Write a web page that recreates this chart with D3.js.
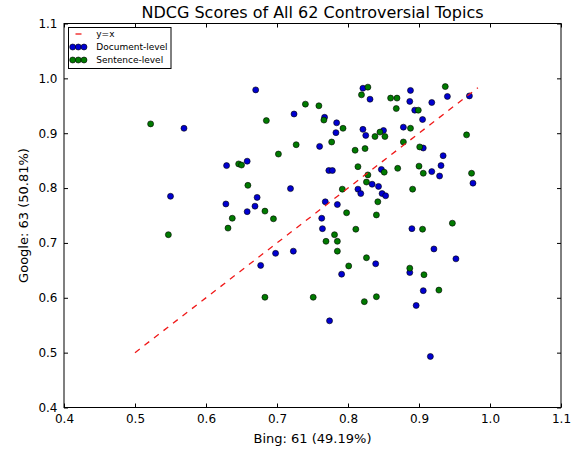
<!DOCTYPE html>
<html>
<head>
<meta charset="utf-8">
<script src="https://cdn.jsdelivr.net/npm/d3@7"></script>
<style>
body { margin: 0; background: #fff; }
text { font-family: "DejaVu Sans", sans-serif; fill: #000; }
</style>
</head>
<body>
<svg id="chart" width="577" height="451"></svg>
<script>
"use strict";

/*global d3*/

// Document-level NDCG (Bing, Google)
var docX = [0.670, 0.569, 0.629, 0.658, 0.550, 0.628, 0.672, 0.669, 0.658, 0.821,
	    0.831, 0.724, 0.767, 0.784, 0.783, 0.821, 0.825, 0.850, 0.878, 0.760,
	    0.773, 0.778, 0.847, 0.834, 0.843, 0.814, 0.818, 0.848, 0.853, 0.719,
	    0.768, 0.785, 0.763, 0.764, 0.723, 0.698, 0.677, 0.839, 0.791, 0.887,
	    0.774, 0.888, 0.971, 0.940, 0.887, 0.918, 0.894, 0.905, 0.906, 0.934,
	    0.931, 0.918, 0.929, 0.976, 0.890, 0.921, 0.952, 0.906, 0.896, 0.916],
    docY = [0.979, 0.909, 0.841, 0.849, 0.785, 0.771, 0.783, 0.767, 0.757, 0.982,
	    0.962, 0.935, 0.929, 0.919, 0.901, 0.907, 0.896, 0.905, 0.911, 0.876,
	    0.832, 0.832, 0.834, 0.807, 0.803, 0.798, 0.790, 0.790, 0.786, 0.799,
	    0.775, 0.770, 0.745, 0.726, 0.685, 0.681, 0.659, 0.662, 0.643, 0.646,
	    0.558, 0.978, 0.968, 0.967, 0.958, 0.956, 0.942, 0.925, 0.873, 0.859,
	    0.841, 0.830, 0.822, 0.809, 0.726, 0.689, 0.671, 0.613, 0.586, 0.493],

    // Sentence-level NDCG (Bing, Google)
    sentX = [0.522, 0.646, 0.650, 0.659, 0.637, 0.631, 0.547, 0.828, 0.819, 0.860,
	     0.869, 0.868, 0.740, 0.759, 0.685, 0.766, 0.793, 0.845, 0.838, 0.852,
	     0.888, 0.878, 0.727, 0.777, 0.810, 0.824, 0.702, 0.814, 0.828, 0.851,
	     0.870, 0.826, 0.792, 0.683, 0.695, 0.798, 0.842, 0.840, 0.811, 0.781,
	     0.769, 0.785, 0.785, 0.826, 0.801, 0.887, 0.683, 0.751, 0.823, 0.840,
	     0.937, 0.899, 0.967, 0.901, 0.900, 0.906, 0.974, 0.891, 0.947, 0.905,
	     0.907, 0.928],
    sentY = [0.917, 0.844, 0.842, 0.805, 0.745, 0.727, 0.715, 0.984, 0.970, 0.964,
	     0.964, 0.945, 0.953, 0.950, 0.923, 0.924, 0.909, 0.902, 0.894, 0.894,
	     0.909, 0.884, 0.879, 0.884, 0.869, 0.872, 0.862, 0.839, 0.824, 0.829,
	     0.836, 0.811, 0.798, 0.758, 0.744, 0.755, 0.775, 0.751, 0.725, 0.715,
	     0.703, 0.703, 0.685, 0.673, 0.658, 0.654, 0.601, 0.601, 0.593, 0.602,
	     0.985, 0.942, 0.897, 0.875, 0.840, 0.827, 0.827, 0.798, 0.736, 0.725,
	     0.642, 0.614],

    // y = x reference line
    lineX = [0.5, 0.983],

    xTicks = [0.4, 0.5, 0.6, 0.7, 0.8, 0.9, 1.0, 1.1],
    yTicks = [0.4, 0.5, 0.6, 0.7, 0.8, 0.9, 1.0, 1.1],

    titleText = "NDCG Scores of All 62 Controversial Topics",
    xLabelText = "Bing: 61 (49.19%)",
    yLabelText = "Google: 63 (50.81%)",
    legendNames = ["y=x", "Document-level", "Sentence-level"],

    blue = "#0000d0",
    green = "#007a00",
    red = "#f01818",

    margin = {top: 23.5, right: 16, bottom: 43.5, left: 64},
    width = 577 - margin.left - margin.right,
    height = 451 - margin.top - margin.bottom,
    markerRadius = 3,
    tickLen = 4;

var zip = function(xs, ys) {
    return xs.map(function(x, i) {
	return [x, ys[i]];
    });
};

var svg = d3.select("#chart"),
    g = svg.append("g")
	.attr("transform", "translate(" + margin.left + "," + margin.top + ")");

var x = d3.scaleLinear().domain([0.4, 1.1]).range([0, width]),
    y = d3.scaleLinear().domain([0.4, 1.1]).range([height, 0]),
    fmt = d3.format(".1f");

// axes, ticks pointing inwards on all four sides
var styleAxis = function(sel) {
    sel.select(".domain").remove();
    sel.selectAll(".tick line").attr("stroke", "#000");
    sel.selectAll(".tick text")
	.style("font-size", "12px")
	.attr("fill", "#000");
};

g.append("g")
    .attr("transform", "translate(0," + height + ")")
    .call(d3.axisBottom(x).tickValues(xTicks).tickFormat(fmt)
	  .tickSizeInner(-tickLen).tickSizeOuter(0).tickPadding(7))
    .call(styleAxis);

g.append("g")
    .call(d3.axisLeft(y).tickValues(yTicks).tickFormat(fmt)
	  .tickSizeInner(-tickLen).tickSizeOuter(0).tickPadding(6.5))
    .call(styleAxis);

g.append("g")
    .call(d3.axisTop(x).tickValues(xTicks).tickFormat("")
	  .tickSizeInner(-tickLen).tickSizeOuter(0))
    .call(styleAxis);

g.append("g")
    .attr("transform", "translate(" + width + ",0)")
    .call(d3.axisRight(y).tickValues(yTicks).tickFormat("")
	  .tickSizeInner(-tickLen).tickSizeOuter(0))
    .call(styleAxis);

// points
var drawPoints = function(data, colour) {
    g.append("g")
	.selectAll("circle")
	.data(data)
	.enter().append("circle")
	.attr("cx", function(d) { return x(d[0]); })
	.attr("cy", function(d) { return y(d[1]); })
	.attr("r", markerRadius)
	.attr("fill", colour)
	.attr("stroke", "#000")
	.attr("stroke-width", 0.6);
};

drawPoints(zip(docX, docY), blue);
drawPoints(zip(sentX, sentY), green);

// y = x
g.append("path")
    .datum(zip(lineX, lineX))
    .attr("d", d3.line()
	  .x(function(d) { return x(d[0]); })
	  .y(function(d) { return y(d[1]); }))
    .attr("fill", "none")
    .attr("stroke", red)
    .attr("stroke-width", 1.3)
    .attr("stroke-dasharray", "6,6");

// frame
g.append("rect")
    .attr("width", width)
    .attr("height", height)
    .attr("fill", "none")
    .attr("stroke", "#000")
    .attr("stroke-width", 1);

// legend
var legend = g.append("g")
	.attr("transform", "translate(4.5,4)");

legend.append("rect")
    .attr("width", 102.5)
    .attr("height", 41)
    .attr("fill", "#fff")
    .attr("stroke", "#000")
    .attr("stroke-width", 1);

legend.append("line")
    .attr("x1", 7).attr("x2", 19)
    .attr("y1", 6.5).attr("y2", 6.5)
    .attr("stroke", red)
    .attr("stroke-width", 1.3)
    .attr("stroke-dasharray", "6,6");

[blue, green].forEach(function(colour, i) {
    legend.selectAll("circle.row" + i)
	.data([4.2, 9.8, 15.5])
	.enter().append("circle")
	.attr("cx", function(d) { return d; })
	.attr("cy", 19.5 + i * 13)
	.attr("r", markerRadius)
	.attr("fill", colour)
	.attr("stroke", "#000")
	.attr("stroke-width", 0.6);
});

legend.selectAll("text")
    .data(legendNames)
    .enter().append("text")
    .attr("x", 27.8)
    .attr("y", function(d, i) { return 6.5 + i * 13; })
    .attr("dy", "0.35em")
    .style("font-size", "9px")
    .text(function(d) { return d; });

// title and labels
svg.append("text")
    .attr("x", margin.left + width / 2)
    .attr("y", 17.5)
    .attr("text-anchor", "middle")
    .style("font-size", "16px")
    .text(titleText);

svg.append("text")
    .attr("x", margin.left + width / 2)
    .attr("y", 443)
    .attr("text-anchor", "middle")
    .style("font-size", "13px")
    .text(xLabelText);

svg.append("text")
    .attr("transform", "translate(28," + (margin.top + height / 2) + ") rotate(-90)")
    .attr("text-anchor", "middle")
    .style("font-size", "13px")
    .text(yLabelText);
</script>
</body>
</html>
